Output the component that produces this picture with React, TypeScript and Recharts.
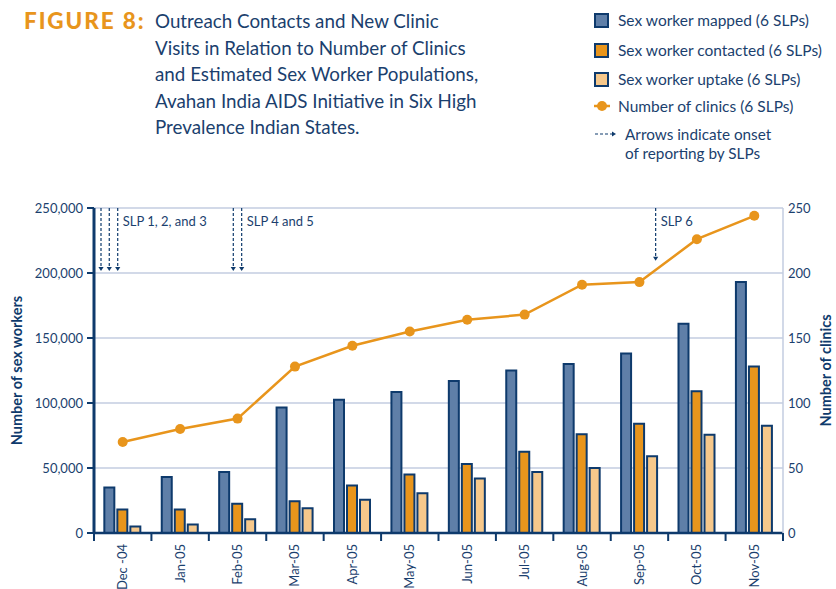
import React from 'react';
import {
  ComposedChart, Bar, Line, XAxis, YAxis, CartesianGrid, ReferenceLine,
} from 'recharts';

const months = ['Dec -04', 'Jan-05', 'Feb-05', 'Mar-05', 'Apr-05', 'May-05', 'Jun-05', 'Jul-05', 'Aug-05', 'Sep-05', 'Oct-05', 'Nov-05'];
const mapped = [35000, 43000, 47000, 96500, 102500, 108500, 117000, 125000, 130000, 138000, 161000, 193000];
const contacted = [18000, 18000, 22500, 24500, 36500, 45000, 53000, 62500, 76000, 84000, 109000, 128000];
const uptake = [5000, 6500, 10500, 19000, 25500, 30500, 42000, 47000, 50000, 59000, 75500, 82500];
const clinics = [70, 80, 88, 128, 144, 155, 164, 168, 191, 193, 226, 244];

const leftTicks = [0, 50000, 100000, 150000, 200000, 250000];
const rightTicks = [0, 50, 100, 150, 200, 250];

// arrows: position in category units along the x range, tip value on left axis, optional label
const arrowPos = [0.122, 0.266, 0.413, 2.426, 2.572, 9.782];
const arrowTip = [201500, 201500, 201500, 201500, 201500, 209500];
const arrowLabel = ['', '', 'SLP 1, 2, and 3', '', 'SLP 4 and 5', 'SLP 6'];

const NAVY = '#0e3a6c';
const TEXT = '#1b3f6e';
const ORANGE = '#e8951c';
const BLUE = '#5f7fa8';
const PEACH = '#f6c88b';
const GRID = '#c3cce0';
const FONT = 'Lato, "Open Sans", sans-serif';

const data = months.map((m, i) => ({
  month: m,
  idx: i + 0.5,
  mapped: mapped[i],
  contacted: contacted[i],
  uptake: uptake[i],
  clinics: clinics[i],
}));

const XTick = (props: any) => {
  const { x, y, payload, index, visibleTicksCount } = props;
  const off = payload && payload.offset ? payload.offset : (836 - 94 - 53) / 12 / 2;
  const last = index === (visibleTicksCount ? visibleTicksCount - 1 : months.length - 1);
  return (
    <g>
      <line x1={x - off} x2={x - off} y1={y} y2={y + 8} stroke={NAVY} strokeWidth={2} />
      {last && <line x1={x + off} x2={x + off} y1={y} y2={y + 8} stroke={NAVY} strokeWidth={2} />}
      <text
        x={0}
        y={0}
        transform={`translate(${x + 4.5},${y + 11}) rotate(-90)`}
        textAnchor="end"
        fill={TEXT}
        fontSize={13}
        fontFamily={FONT}
      >
        {payload.value}
      </text>
    </g>
  );
};

const ArrowShape = (props: any) => {
  const { x1, y1, y2, text } = props;
  const top = Math.min(y1, y2);
  const bot = Math.max(y1, y2);
  return (
    <g>
      <line x1={x1} x2={x1} y1={top} y2={bot - 3} stroke={NAVY} strokeWidth={1.2} strokeDasharray="3 2" />
      <path d={`M${x1 - 2.6},${bot - 4} L${x1 + 2.6},${bot - 4} L${x1},${bot} Z`} fill={NAVY} />
      {text ? (
        <text x={x1 + 5} y={top + 18} fill={TEXT} fontSize={13} fontFamily={FONT}>
          {text}
        </text>
      ) : null}
    </g>
  );
};

const Swatch = ({ color }: { color: string }) => (
  <div style={{ width: 11, height: 11, background: color, border: `2px solid ${NAVY}` }} />
);

const legendRows = [
  { kind: 'bar', color: BLUE, label: 'Sex worker mapped (6 SLPs)', top: 12 },
  { kind: 'bar', color: ORANGE, label: 'Sex worker contacted (6 SLPs)', top: 42 },
  { kind: 'bar', color: PEACH, label: 'Sex worker uptake (6 SLPs)', top: 71 },
];

export default function App() {
  return (
    <div style={{ position: 'absolute', left: 0, top: 0, width: 836, height: 589, background: '#fff', fontFamily: FONT, overflow: 'hidden' }}>
      {/* Title */}
      <div style={{ position: 'absolute', left: 24, top: 8, color: ORANGE, fontWeight: 900, fontSize: 22.5, letterSpacing: 1.9, lineHeight: '26.5px' }}>
        FIGURE 8:
      </div>
      <div style={{ position: 'absolute', left: 155, top: 8, color: TEXT, fontSize: 18.8, lineHeight: '26.5px', width: 420 }}>
        Outreach Contacts and New Clinic<br />
        Visits in Relation to Number of Clinics<br />
        and Estimated Sex Worker Populations,<br />
        Avahan India AIDS Initiative in Six High<br />
        Prevalence Indian States.
      </div>

      {/* Legend */}
      {legendRows.map((r) => (
        <div key={r.label} style={{ position: 'absolute', left: 594, top: r.top, display: 'flex', alignItems: 'center', height: 16 }}>
          <Swatch color={r.color} />
          <span style={{ marginLeft: 9, color: TEXT, fontSize: 15.5 }}>{r.label}</span>
        </div>
      ))}
      <div style={{ position: 'absolute', left: 593, top: 98, display: 'flex', alignItems: 'center', height: 16 }}>
        <svg width={18} height={16}>
          <line x1={1} x2={17} y1={8} y2={8} stroke={ORANGE} strokeWidth={2.5} />
          <circle cx={9} cy={8} r={5} fill={ORANGE} />
        </svg>
        <span style={{ marginLeft: 7, color: TEXT, fontSize: 15.5 }}>Number of clinics (6 SLPs)</span>
      </div>
      <div style={{ position: 'absolute', left: 594, top: 126, display: 'flex', alignItems: 'flex-start' }}>
        <svg width={24} height={16}>
          <line x1={1} x2={18} y1={8} y2={8} stroke={NAVY} strokeWidth={1.2} strokeDasharray="3 2" />
          <path d="M18,5.4 L22,8 L18,10.6 Z" fill={NAVY} />
        </svg>
        <span style={{ marginLeft: 7, color: TEXT, fontSize: 15.3, lineHeight: '19px', marginTop: -1 }}>
          Arrows indicate onset<br />of reporting by SLPs
        </span>
      </div>

      <div style={{ position: 'absolute', left: 0, top: 0 }}>
        <ComposedChart
          width={836}
          height={589}
          data={data}
          margin={{ top: 208, right: 0, bottom: 0, left: 0 }}
          barCategoryGap="18%"
          barGap={3}
        >
          <CartesianGrid vertical={false} stroke={GRID} strokeWidth={1.5} yAxisId="left" />
          <XAxis
            dataKey="month"
            height={56}
            interval={0}
            tickSize={0}
            tickMargin={0}
            tick={<XTick />}
            axisLine={{ stroke: NAVY, strokeWidth: 2.5 }}
            tickLine={false}
          />
          <XAxis xAxisId="pos" dataKey="idx" type="number" domain={[0, 12]} allowDataOverflow hide />
          <YAxis
            yAxisId="left"
            width={94}
            domain={[0, 250000]}
            ticks={leftTicks}
            interval={0}
            tickFormatter={(v: number) => v.toLocaleString('en-US')}
            tick={{ fill: TEXT, fontSize: 13, fontFamily: FONT }}
            tickSize={7}
            tickMargin={4}
            tickLine={{ stroke: NAVY, strokeWidth: 2 }}
            axisLine={{ stroke: NAVY, strokeWidth: 3 }}
            label={{
              value: 'Number of sex workers',
              angle: -90,
              position: 'insideLeft',
              offset: 17,
              style: { textAnchor: 'middle', fill: NAVY, fontWeight: 700, fontSize: 14.5, fontFamily: FONT },
            }}
          />
          <YAxis
            yAxisId="right"
            orientation="right"
            width={53}
            domain={[0, 250]}
            ticks={rightTicks}
            interval={0}
            tick={{ fill: TEXT, fontSize: 13, fontFamily: FONT }}
            tickSize={0}
            tickMargin={5}
            tickLine={false}
            axisLine={{ stroke: GRID, strokeWidth: 1.5 }}
            label={{
              value: 'Number of clinics',
              angle: -90,
              position: 'insideRight',
              offset: 10,
              style: { textAnchor: 'middle', fill: NAVY, fontWeight: 700, fontSize: 14.5, fontFamily: FONT },
            }}
          />
          <Bar yAxisId="left" dataKey="mapped" fill={BLUE} stroke={NAVY} strokeWidth={2} isAnimationActive={false} />
          <Bar yAxisId="left" dataKey="contacted" fill={ORANGE} stroke={NAVY} strokeWidth={2} isAnimationActive={false} />
          <Bar yAxisId="left" dataKey="uptake" fill={PEACH} stroke={NAVY} strokeWidth={2} isAnimationActive={false} />
          <Line
            yAxisId="right"
            dataKey="clinics"
            stroke={ORANGE}
            strokeWidth={2.5}
            dot={{ r: 5, fill: ORANGE, stroke: ORANGE, strokeWidth: 0 }}
            isAnimationActive={false}
          />
          {arrowPos.map((p, i) => (
            <ReferenceLine
              key={i}
              xAxisId="pos"
              yAxisId="left"
              segment={[{ x: p, y: 250000 }, { x: p, y: arrowTip[i] }]}
              shape={(sp: any) => <ArrowShape {...sp} text={arrowLabel[i]} />}
            />
          ))}
        </ComposedChart>
      </div>
    </div>
  );
}
